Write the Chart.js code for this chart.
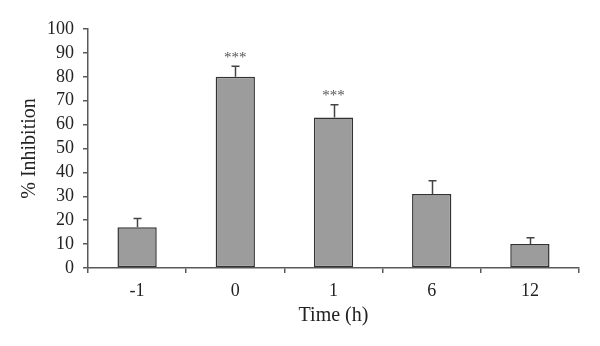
<!DOCTYPE html>
<html>
<head>
<meta charset="utf-8">
<script src="https://cdn.jsdelivr.net/npm/chart.js@4/dist/chart.umd.min.js"></script>
<style>
  html, body { margin: 0; padding: 0; background: #fff; }
  #wrap { width: 600px; height: 346px; }
</style>
</head>
<body>
<div id="wrap"><canvas id="inhibitionChart" width="600" height="346"></canvas></div>
<script>
// Values
const timeLabels = ['-1', '0', '1', '6', '12'];
const inhibitionValues = [17, 80, 63, 31, 10];
const inhibitionErrors = [3.7, 4.4, 5.3, 5.5, 2.7];
const significance = ['', '***', '***', '', ''];
const yTicks = [0, 10, 20, 30, 40, 50, 60, 70, 80, 90, 100];

const FONT = '"Liberation Serif", "DejaVu Serif", serif';
const AXIS_COLOR = '#595959';

// Draw the upper error bars and the significance stars from the bar data
const errorBarPlugin = {
  id: 'errorBars',
  afterDatasetsDraw(chart) {
    const ctx = chart.ctx;
    const yScale = chart.scales.y;
    const meta = chart.getDatasetMeta(0);
    ctx.save();
    ctx.strokeStyle = '#444';
    ctx.lineWidth = 1.5;
    meta.data.forEach((bar, i) => {
      const top = yScale.getPixelForValue(inhibitionValues[i] + inhibitionErrors[i]);
      const x = Math.round(bar.x) + 0.5;
      ctx.beginPath();
      ctx.moveTo(x, bar.y);
      ctx.lineTo(x, top);
      ctx.moveTo(x - 4, top);
      ctx.lineTo(x + 4, top);
      ctx.stroke();
      if (significance[i]) {
        ctx.fillStyle = '#555';
        ctx.font = '15px ' + FONT;
        ctx.textAlign = 'center';
        ctx.textBaseline = 'bottom';
        ctx.fillText(significance[i], bar.x, top - 1);
      }
    });
    ctx.restore();
  }
};

window.onload = () => {
  const canvas = document.querySelector('#inhibitionChart');
  new Chart(canvas, {
    type: 'bar',
    data: {
      labels: timeLabels,
      datasets: [{
        data: inhibitionValues,
        backgroundColor: '#9c9c9c',
        borderColor: '#333',
        borderWidth: 1.5,
        borderSkipped: false,
        categoryPercentage: 1,
        barPercentage: 0.4,
      }],
    },
    options: {
      responsive: false,
      animation: false,
      layout: { padding: { top: 29, right: 21, left: 0, bottom: 0 } },
      plugins: {
        legend: { display: false },
        tooltip: { enabled: false },
      },
      scales: {
        x: {
          grid: {
            display: true,
            drawOnChartArea: false,
            drawTicks: true,
            tickLength: 5,
            color: AXIS_COLOR,
            lineWidth: 1.5,
          },
          border: { display: true, color: AXIS_COLOR, width: 1.5 },
          ticks: { color: '#222', font: { family: FONT, size: 18 }, padding: 7 },
          title: {
            display: true,
            text: 'Time (h)',
            color: '#222',
            font: { family: FONT, size: 20 },
            padding: { top: 18, bottom: 18 },
          },
          afterFit: (scale) => { scale.height = 78; },
        },
        y: {
          min: 0,
          max: 100,
          afterBuildTicks: (scale) => { scale.ticks = yTicks.map(v => ({ value: v })); },
          grid: {
            display: true,
            drawOnChartArea: false,
            drawTicks: true,
            tickLength: 5,
            color: AXIS_COLOR,
            lineWidth: 1.5,
          },
          border: { display: true, color: AXIS_COLOR, width: 1.5 },
          ticks: { color: '#222', font: { family: FONT, size: 18 }, padding: 9, autoSkip: false },
          title: {
            display: true,
            text: '% Inhibition',
            color: '#222',
            font: { family: FONT, size: 20 },
            padding: { top: 18, bottom: 18 },
          },
          afterFit: (scale) => { scale.width = 88; },
        },
      },
    },
    plugins: [errorBarPlugin],
  });
};
</script>
</body>
</html>
